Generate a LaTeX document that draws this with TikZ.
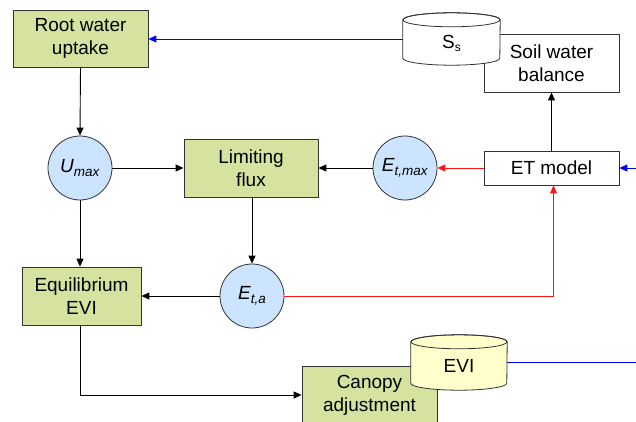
\documentclass[tikz,border=0pt]{standalone}
\usepackage{fontspec}
\setmainfont{Liberation Sans}
\usetikzlibrary{arrows.meta}
\definecolor{boxgreen}{RGB}{214,227,160}
\definecolor{circblue}{RGB}{204,228,255}
\definecolor{cylyellow}{RGB}{255,255,204}
\definecolor{edgegray}{RGB}{50,50,50}
\definecolor{linered}{RGB}{255,20,20}
\definecolor{lineblue}{RGB}{0,0,255}
\newcommand{\vsub}[2]{\textit{#1}\raisebox{-4pt}{\fontsize{13.5}{13.5}\selectfont\textit{#2}}}
\begin{document}
\begin{tikzpicture}[x=1pt,y=1pt,
  txt/.style={font=\fontsize{19}{23}\selectfont, align=center, text=black},
  gbox/.style={txt, draw=edgegray, line width=0.8pt, fill=boxgreen, inner sep=0pt},
  wbox/.style={txt, draw=edgegray, line width=0.8pt, fill=white, inner sep=0pt},
  varc/.style={txt, circle, draw=edgegray, line width=0.8pt, fill=circblue, minimum size=64pt, inner sep=0pt},
  cyl/.style={draw=edgegray, line width=0.8pt},
  arr/.style={line width=0.9pt, -{Triangle[length=8pt,width=7pt]}},
  barr/.style={arr, draw=black},
  rarr/.style={arr, draw=linered, color=linered},
  blarr/.style={arr, draw=lineblue, color=lineblue},
  bline/.style={line width=0.9pt, draw=lineblue}
]
\useasboundingbox (0,0) rectangle (636,421);

% boxes
\node[gbox, minimum width=135pt, minimum height=57pt] (root) at (80.5,382.5) {Root water\\uptake};
\node[wbox, minimum width=135pt, minimum height=58pt] (swb) at (551.5,358) {Soil water\\balance};

% S_s cylinder
\node[inner sep=0pt, minimum width=97pt, minimum height=38pt] (ssb) at (451.5,382) {};
\filldraw[cyl, fill=white] (ssb.north west) -- (ssb.south west)
  arc[start angle=180, end angle=360, x radius=48.5, y radius=7] -- (ssb.north east)
  arc[start angle=0, end angle=180, x radius=48.5, y radius=7] -- cycle;
\draw[cyl] (ssb.north) ellipse[x radius=48.5, y radius=7];
\node[txt] (sst) at (451.5,378) {S\raisebox{-3pt}{\fontsize{12}{12}\selectfont s}};

\node[varc] (umax) at (80,253) {\vsub{U}{max}};
\node[gbox, minimum width=134pt, minimum height=58pt] (lim) at (251,253) {Limiting\\flux};
\node[varc] (etmax) at (405,253) {\vsub{E}{t,max}};
\node[wbox, minimum width=135pt, minimum height=34pt] (et) at (551.5,253) {ET model};
\node[gbox, minimum width=119pt, minimum height=58pt] (eq) at (81.5,125) {Equilibrium\\EVI};
\node[varc] (eta) at (252,125) {\vsub{E}{t,a}};
\node[gbox, minimum width=135pt, minimum height=58pt] (can) at (369.5,26) {Canopy\\adjustment};

% EVI cylinder
\node[inner sep=0pt, minimum width=96pt, minimum height=41pt] (evib) at (459,58.5) {};
\filldraw[cyl, fill=cylyellow] (evib.north west) -- (evib.south west)
  arc[start angle=180, end angle=360, x radius=48, y radius=7] -- (evib.north east)
  arc[start angle=0, end angle=180, x radius=48, y radius=7] -- cycle;
\draw[cyl] (evib.north) ellipse[x radius=48, y radius=7];
\node[txt] (evit) at (459,55) {EVI};

% free ends at the right edge
\coordinate (etin) at (636,253);
\coordinate (eviout) at (636,58.5);

% connectors
\draw[blarr] (ssb.west) -- (ssb.west -| root.east);
\draw[barr] (root.south) -- (umax.north);
\draw[barr] (umax.east) -- (lim.west);
\draw[barr] (umax.south) -- (eq.north -| umax.south);
\draw[barr] (etmax.west) -- (lim.east);
\draw[rarr] (et.west) -- (etmax.east);
\draw[barr] (et.north) -- (swb.south);
\draw[blarr] (etin) -- (et.east);
\draw[barr] (lim.south -| eta.north) -- (eta.north);
\draw[barr] (eta.west) -- (eq.east);
\draw[rarr] (eta.east) -| ([xshift=2pt]et.south);
\draw[barr] (eq.south -| umax.south) |- (can.west);
\draw[bline] (evib.east) -- (eviout);
\end{tikzpicture}
\end{document}
